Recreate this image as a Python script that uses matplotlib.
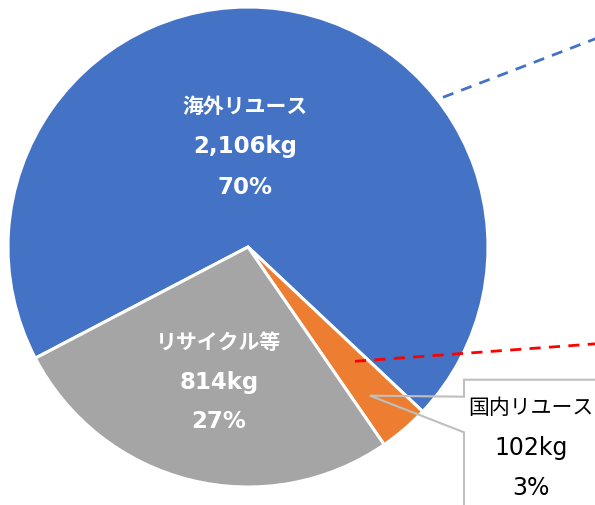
import matplotlib
matplotlib.use("Agg")
import matplotlib.pyplot as plt
from matplotlib.patches import Polygon
import numpy as np

plt.rcParams['font.family'] = ['DejaVu Sans', 'Noto Sans CJK JP']

# ---- data ----
categories = ['海外リユース', '国内リユース', 'リサイクル等']
values_kg = [2106, 102, 814]
percent_labels = ['70%', '3%', '27%']
colors = ['#4472C4', '#ED7D31', '#A5A5A5']

# ---- figure geometry (pixel based: pie centre 248,248, radius 240) ----
W, H, DPI = 595, 506, 100
CX, CY, R = 248.0, 248.0, 240.0

def px(x, y):
    """pixel -> data coords (pie radius = 1)"""
    return (x - CX) / R, (CY - y) / R

fig = plt.figure(figsize=(W / DPI, H / DPI), dpi=DPI)
ax = fig.add_axes([0, 0, 1, 1])

wedges, _ = ax.pie(values_kg, colors=colors, startangle=207.6, counterclock=False,
                   radius=1.0, center=(0, 0), frame=True,
                   wedgeprops=dict(edgecolor='white', linewidth=2.2))
ax.set_xlim(px(0, 0)[0], px(W, 0)[0])
ax.set_ylim(px(0, H)[1], px(0, 0)[1])
ax.set_aspect('equal')
ax.axis('off')

def fmt_kg(v):
    return f'{v:,}kg'

# inside labels (white, bold)
label_pos = {0: (245, 107, 40), 2: (219, 343, 39)}
for i, (x, y, step) in label_pos.items():
    lines = [categories[i], fmt_kg(values_kg[i]), percent_labels[i]]
    sizes = [15, 16.5, 16.5]
    for k, t in enumerate(lines):
        X, Y = px(x, y + k * step)
        ax.text(X, Y, t, color='white', fontsize=sizes[k], fontweight='bold',
                ha='center', va='center', zorder=5)

# callout for small slice
callout = [px(620, 380.7), px(464, 380.7), px(464, 397.7), px(370, 396.7),
           px(464, 433.3), px(464, 520)]
ax.add_patch(Polygon(callout, closed=False, fill=False, edgecolor='#BFBFBF',
                     linewidth=1.5, zorder=4))
i = 1
sizes = [15, 17, 17]
for k, t in enumerate([categories[i], fmt_kg(values_kg[i]), percent_labels[i]]):
    X, Y = px(531, 408 + k * 40)
    ax.text(X, Y, t, color='black', fontsize=sizes[k], ha='center', va='center', zorder=5)

# connector lines (bar-of-pie style)
x0, y0 = px(443, 98.3); x1, y1 = px(600, 38)
ax.plot([x0, x1], [y0, y1], color='#4472C4', linewidth=2.0, dashes=(4, 3), zorder=3)
x0, y0 = px(355, 362.3); x1, y1 = px(600, 344.5)
ax.plot([x0, x1], [y0, y1], color='#FF0000', linewidth=2.0, dashes=(4, 3), zorder=3)

fig.savefig('out.png', dpi=DPI, facecolor='white')
